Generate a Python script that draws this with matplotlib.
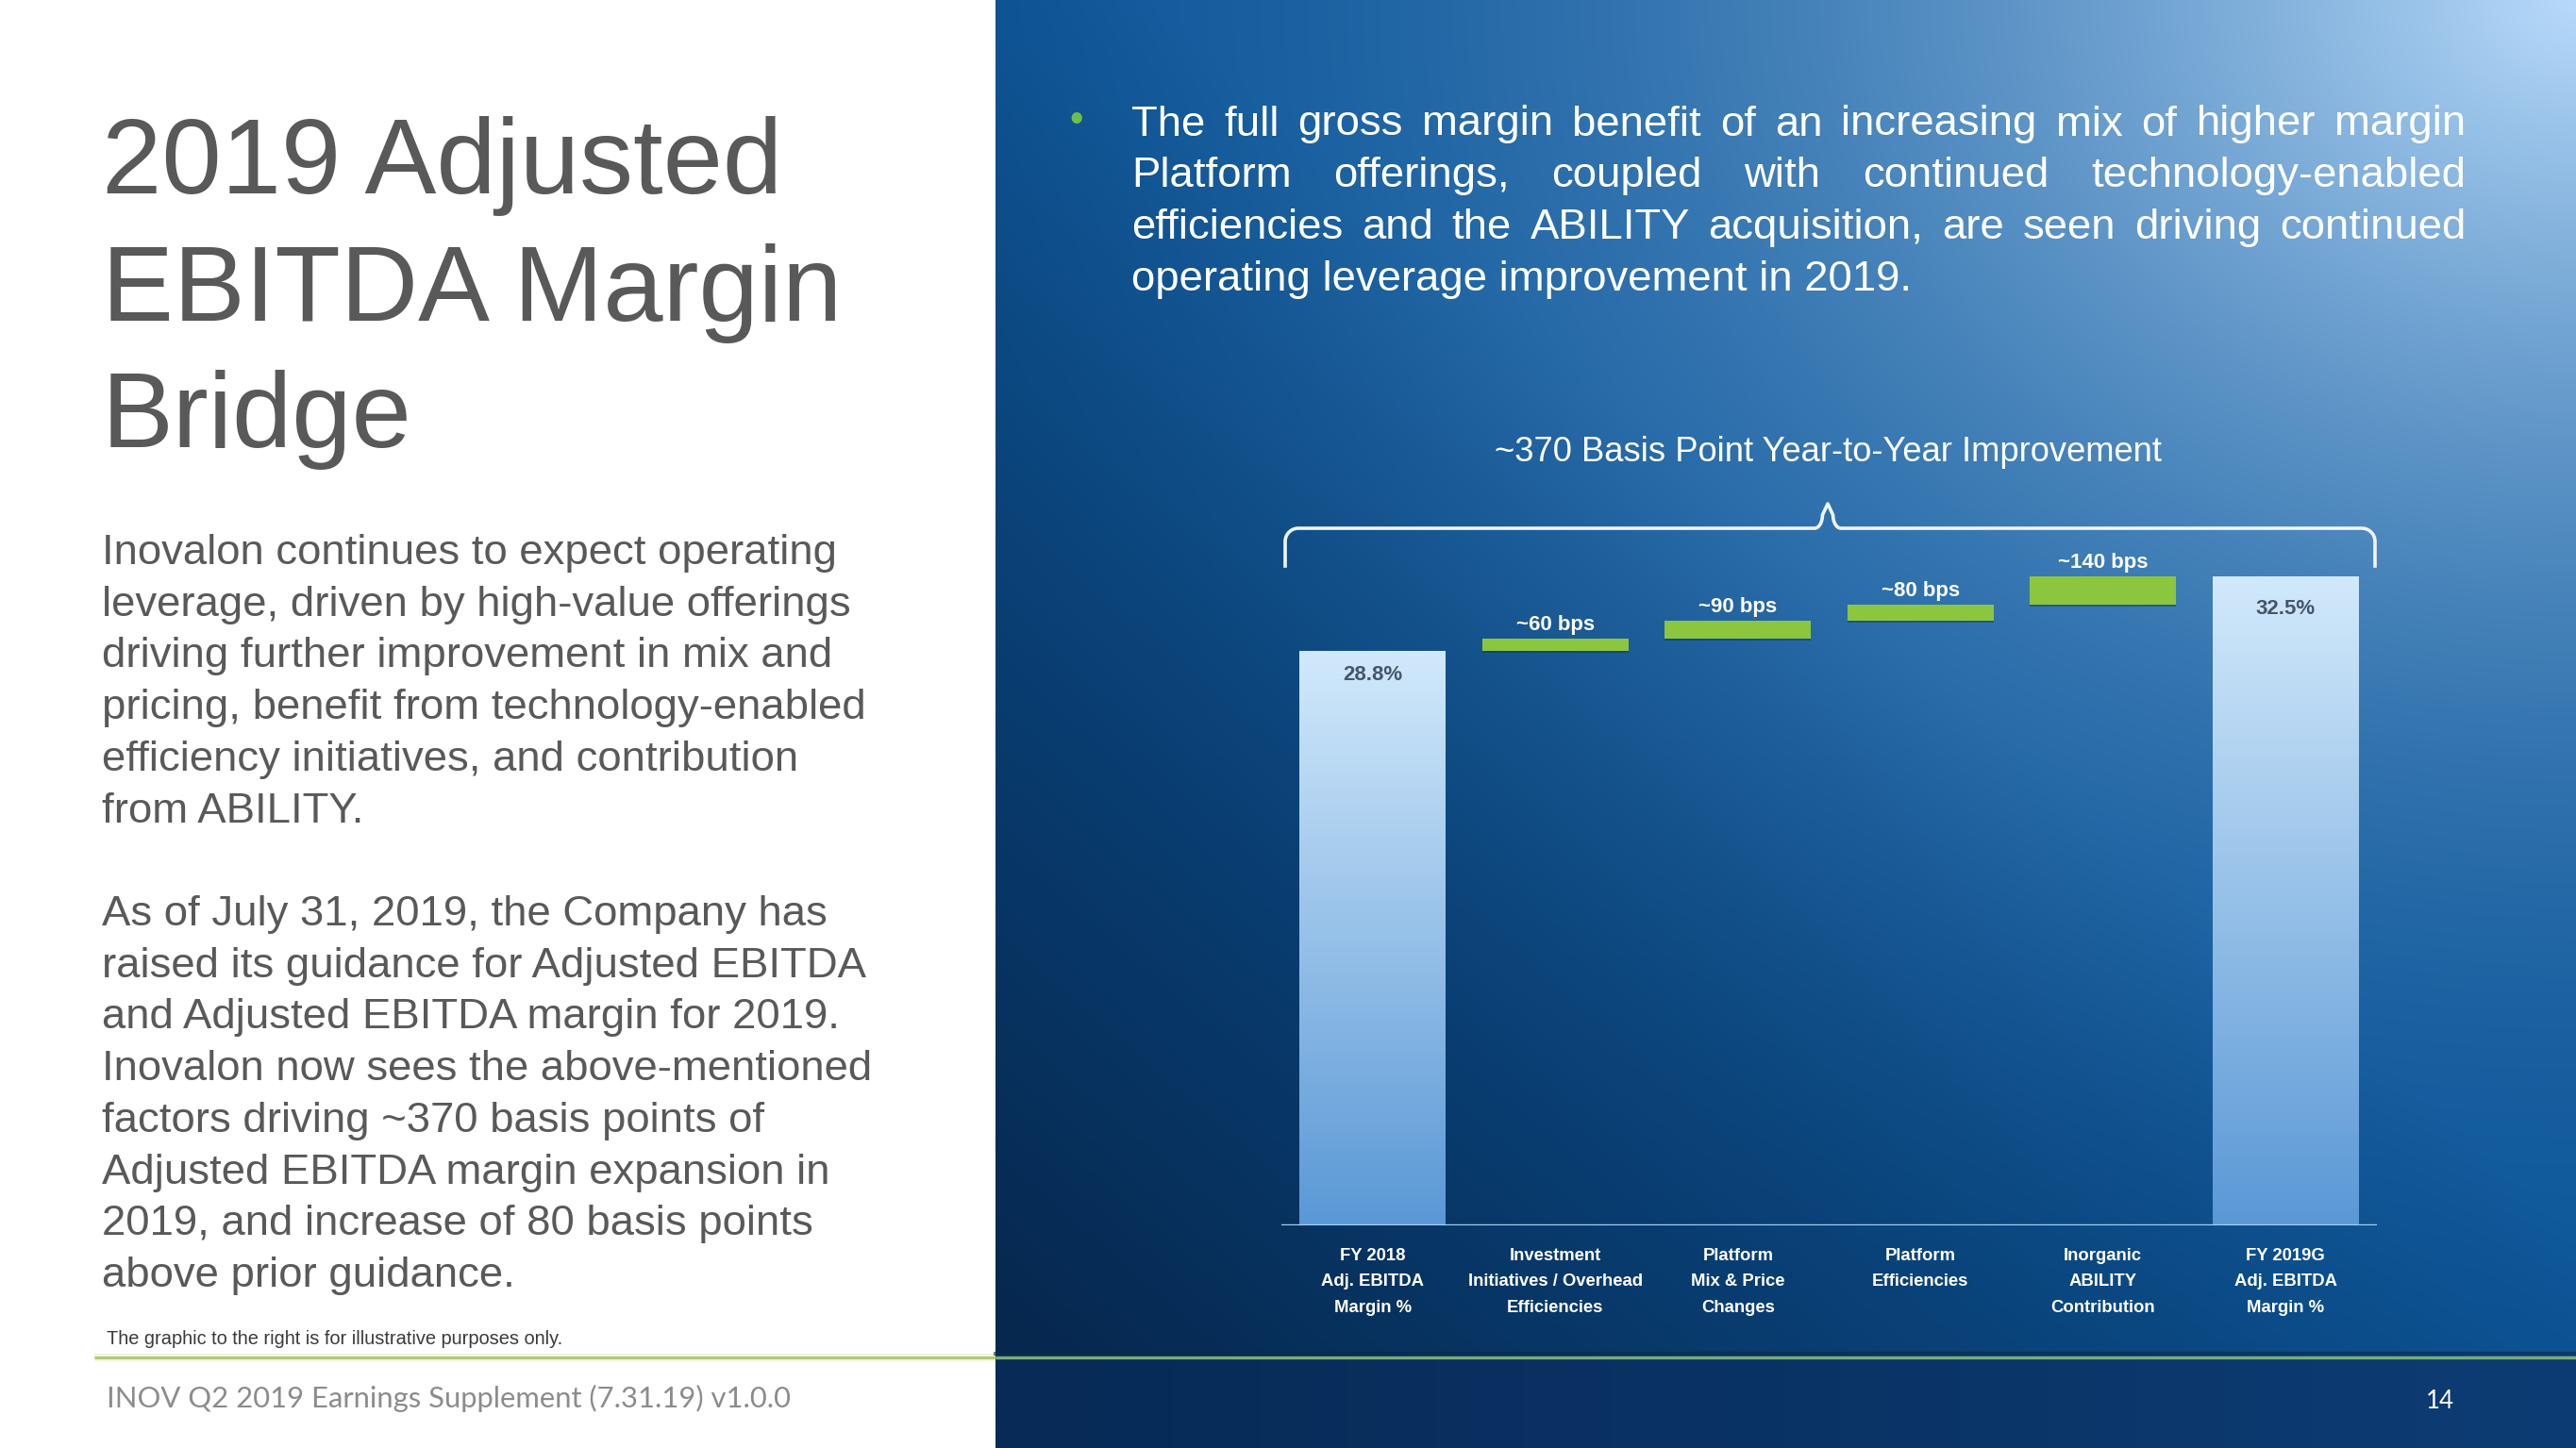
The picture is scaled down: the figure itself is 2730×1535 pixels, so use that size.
import numpy as np
import matplotlib
matplotlib.use("Agg")
import matplotlib.pyplot as plt
from matplotlib.colors import to_rgb

# ---------------- data ----------------
categories = ["FY 2018\nAdj. EBITDA\nMargin %",
              "Investment\nInitiatives / Overhead\nEfficiencies",
              "Platform\nMix & Price\nChanges",
              "Platform\nEfficiencies",
              "Inorganic\nABILITY\nContribution",
              "FY 2019G\nAdj. EBITDA\nMargin %"]
start_margin = 28.8
end_margin = 32.5
deltas_bps = [60, 90, 80, 140]
delta_labels = ["~60 bps", "~90 bps", "~80 bps", "~140 bps"]
value_labels = ["28.8%", "32.5%"]
chart_title = "~370 Basis Point Year-to-Year Improvement"

title_lines = ["2019 Adjusted", "EBITDA Margin", "Bridge"]
para1 = ["Inovalon continues to expect operating",
         "leverage, driven by high-value offerings",
         "driving further improvement in mix and",
         "pricing, benefit from technology-enabled",
         "efficiency initiatives, and contribution",
         "from ABILITY."]
para2 = ["As of July 31, 2019, the Company has",
         "raised its guidance for Adjusted EBITDA",
         "and Adjusted EBITDA margin for 2019.",
         "Inovalon now sees the above-mentioned",
         "factors driving ~370 basis points of",
         "Adjusted EBITDA margin expansion in",
         "2019, and increase of 80 basis points",
         "above prior guidance."]
bullet_lines = ["The full gross margin benefit of an increasing mix of higher margin",
                "Platform offerings, coupled with continued technology-enabled",
                "efficiencies and the ABILITY acquisition, are seen driving continued",
                "operating leverage improvement in 2019."]
note_text = "The graphic to the right is for illustrative purposes only."
footer_text = "INOV Q2 2019 Earnings Supplement (7.31.19) v1.0.0"
page_number = "14"

# ---------------- figure ----------------
W, H = 2730, 1535
plt.rcParams['font.family'] = ['Liberation Sans', 'DejaVu Sans']
fig = plt.figure(figsize=(W / 100, H / 100), dpi=100)
fig.patch.set_facecolor("white")

bg = fig.add_axes([0, 0, 1, 1])
bg.set_xlim(0, W)
bg.set_ylim(H, 0)
bg.axis("off")

PX0 = 1055  # left edge of blue panel
GREEN_Y = 1439

# --- blue panel gradient ---
ny, nx = 400, 440
v, u = np.mgrid[0:1:ny * 1j, 0:1:nx * 1j]
c_mid = np.array(to_rgb("#0c5699"))
c_dark = np.array(to_rgb("#06284f"))
c_light = np.array(to_rgb("#b8dafa"))
t = np.clip((v * 0.85 + (1 - u) * 0.8 - 0.72) / 0.85, 0, 1)[..., None]
base = c_mid * (1 - t) + c_dark * t
dist = np.sqrt(((1 - u) / 1.15) ** 2 + (v / 1.0) ** 2)
w = (np.clip(1 - dist, 0, 1) ** 2)[..., None]
img = base * (1 - w) + c_light * w
# bottom strip below the green line
vy = v * H
below = (vy > GREEN_Y)[..., None]
c_bl = np.array(to_rgb("#072a56"))
c_br = np.array(to_rgb("#0d3c74"))
bottom = c_bl * (1 - u[..., None]) + c_br * u[..., None]
img = np.where(below, bottom, img)
bg.imshow(img, extent=[PX0, W, H, 0], aspect="auto", interpolation="bilinear", zorder=0)
bg.set_xlim(0, W)
bg.set_ylim(H, 0)

# green separator line
bg.plot([100, PX0], [GREEN_Y, GREEN_Y], color="#f2f5dc", lw=6, solid_capstyle="butt", zorder=1)
bg.plot([100, PX0], [GREEN_Y, GREEN_Y], color="#b3c77a", lw=2.2, solid_capstyle="butt", zorder=2)
bg.plot([PX0, W], [GREEN_Y - 4, GREEN_Y - 4], color="#0a2a4a", lw=3, alpha=0.6, zorder=1)
bg.plot([PX0, W], [GREEN_Y, GREEN_Y], color="#78ad76", lw=2.4, solid_capstyle="butt", zorder=2)

renderer = fig.canvas.get_renderer()


def width_of(s, **kw):
    tt = bg.text(0, 0, s, **kw)
    wd = tt.get_window_extent(renderer).width
    tt.remove()
    return wd


def fit_size(s, target, **kw):
    return 30.0 * target / width_of(s, fontsize=30.0, **kw)


# --- left panel text ---
grey = "#595959"
ts = fit_size(title_lines[0], 720)
for line, yb in zip(title_lines, [205, 340, 474]):
    bg.text(108, yb, line, fontsize=ts, color=grey, ha="left", va="baseline")

bs = fit_size(para1[3], 808)
for k, line in enumerate(para1):
    bg.text(108, 598 + 54.7 * k, line, fontsize=bs, color=grey, ha="left", va="baseline")
for k, line in enumerate(para2):
    bg.text(108, 981 + 54.7 * k, line, fontsize=bs, color=grey, ha="left", va="baseline")

ns = fit_size(note_text, 482)
bg.text(113, 1425, note_text, fontsize=ns, color="#3a3a3a", ha="left", va="baseline")

fs = fit_size(footer_text, 723, family="Lato")
bg.text(113, 1492, footer_text, fontsize=fs, color="#8c8c8c", ha="left", va="baseline", family="Lato")
ps = fit_size(page_number, 30, family="Lato")
bg.text(2586, 1493, page_number, fontsize=ps, color="white", ha="center", va="baseline", family="Lato")

# --- bullet text (justified) ---
ul = fit_size(bullet_lines[3], 825)
x0, x1 = 1199, 2613
for k, line in enumerate(bullet_lines):
    yb = 143.5 + 54.7 * k
    if k == len(bullet_lines) - 1:
        bg.text(x0, yb, line, fontsize=ul, color="white", ha="left", va="baseline")
        continue
    words = line.split()
    ws = [width_of(wd, fontsize=ul) for wd in words]
    gap = (x1 - x0 - sum(ws)) / (len(words) - 1)
    xx = x0
    for wd, wv in zip(words, ws):
        bg.text(xx, yb, wd, fontsize=ul, color="white", ha="left", va="baseline")
        xx += wv + gap
bg.text(1141, 128, "\u2022", fontsize=30, color="#6cc04a", ha="center", va="center")

# --- chart title and brace ---
cts = fit_size(chart_title, 707)
bg.text(1938, 489, chart_title, fontsize=cts, color="white", ha="center", va="baseline")

bx0, bx1, by, byend, peak_x, peak_y = 1362, 2517, 560, 600, 1937, 534
r = 14
brace_x, brace_y = [], []
th = np.linspace(np.pi, 1.5 * np.pi, 20)
brace_x += [bx0]; brace_y += [byend]
brace_x += list(bx0 + r + r * np.cos(th)); brace_y += list(by + r + r * np.sin(th))
th2 = np.linspace(0.5 * np.pi, 0, 20)
brace_x += list(peak_x - r + r * np.cos(th2) * 0.6); brace_y += list(by - r + r * np.sin(th2))
brace_x += [peak_x]; brace_y += [peak_y]
th3 = np.linspace(np.pi, 0.5 * np.pi, 20)
brace_x += list(peak_x + r + r * np.cos(th3) * 0.6); brace_y += list(by - r + r * np.sin(th3))
th4 = np.linspace(1.5 * np.pi, 2 * np.pi, 20)
brace_x += list(bx1 - r + r * np.cos(th4)); brace_y += list(by + r + r * np.sin(th4))
brace_x += [bx1]; brace_y += [byend]
bg.plot(brace_x, brace_y, color="#eef5fb", lw=2.6, solid_joinstyle="round", zorder=3)

# ---------------- chart axes ----------------
ax_left, ax_right = 1358, 2519
base_px, ymax = 1299, 40.0
px_per_unit = 21.16
ax_h = ymax * px_per_unit
ax = fig.add_axes([ax_left / W, 1 - base_px / H, (ax_right - ax_left) / W, ax_h / H])
ax.patch.set_alpha(0)
for s in ax.spines.values():
    s.set_visible(False)
ax.set_xticks([])
ax.set_yticks([])

x = np.arange(len(categories))
bw = 0.8
deltas = np.array(deltas_bps) / 100.0
bottoms = start_margin + np.concatenate([[0], np.cumsum(deltas)[:-1]])

# total bars with vertical gradient
grad = np.linspace(0, 1, 256)[:, None]
c_top = np.array(to_rgb("#d2e9fb"))
c_bot = np.array(to_rgb("#5a98d6"))
gimg = c_top[None, None, :] * (1 - grad[..., None]) + c_bot[None, None, :] * grad[..., None]
totals = ax.bar([x[0], x[-1]], [start_margin, end_margin], width=bw, color="none", zorder=2)
for patch in totals.patches:
    xl = patch.get_x()
    im = ax.imshow(gimg, extent=[xl, xl + patch.get_width(), 0, patch.get_height()],
                   aspect="auto", origin="upper", zorder=2)
    im.set_clip_path(patch)

# shadow + green delta bars
ax.bar(x[1:-1], deltas, bottom=bottoms - 0.12, width=bw, color="#0a3560", alpha=0.45, zorder=2)
ax.bar(x[1:-1], deltas, bottom=bottoms, width=bw, color="#8cc63f", zorder=3)

ax.axhline(0, color="#a8d2f4", lw=2.4, zorder=4)
ax.set_xlim(-0.5, len(categories) - 0.5)
ax.set_ylim(0, ymax)

# labels
lab_s = fit_size("~140 bps", 96, fontweight="bold")
for xi, top, lbl in zip(x[1:-1], bottoms + deltas, delta_labels):
    ax.annotate(lbl, (xi, top), xytext=(0, 9), textcoords="offset pixels",
                ha="center", va="baseline", fontsize=lab_s, fontweight="bold", color="white")

val_s = fit_size("32.5%", 63, fontweight="bold")
for xi, top, lbl, off in zip([x[0], x[-1]], [start_margin, end_margin], value_labels, [31, 40]):
    ax.annotate(lbl, (xi, top), xytext=(0, -off), textcoords="offset pixels",
                ha="center", va="baseline", fontsize=val_s, fontweight="bold", color="#46566a")

cat_s = fit_size("Initiatives / Overhead", 186, fontweight="bold")
for xi, cat in zip(x, categories):
    for k, line in enumerate(cat.split("\n")):
        ax.annotate(line, (xi, 0), xytext=(0, -(37 + 27.4 * k)), textcoords="offset pixels",
                    ha="center", va="baseline", fontsize=cat_s, fontweight="bold", color="white")

fig.savefig("out.png", dpi=100)
